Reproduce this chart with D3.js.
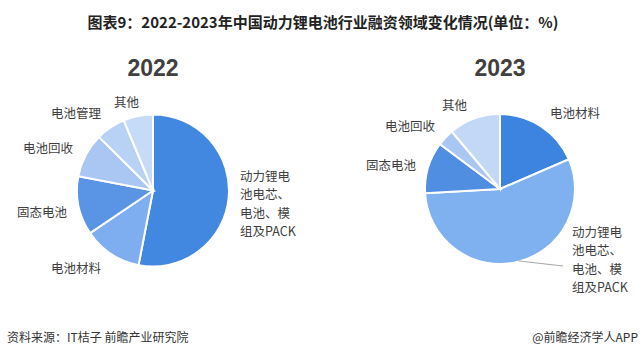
<!DOCTYPE html>
<html><head><meta charset="utf-8">
<script src="https://cdn.jsdelivr.net/npm/d3@7/dist/d3.min.js"></script>
<style>
html,body{margin:0;padding:0;background:#fff;}
svg{display:block;font-family:"Noto Sans CJK SC","Noto Sans",sans-serif;}
</style></head>
<body><svg id="c" width="644" height="359"></svg>
<script>
const title = "图表9：2022-2023年中国动力锂电池行业融资领域变化情况(单位：%)";
const source = "资料来源：IT桔子 前瞻产业研究院";
const credit = "@前瞻经济学人APP";

const years = ["2022", "2023"];
const cats2022 = ["动力锂电池电芯、电池、模组及PACK", "电池材料", "固态电池", "电池回收", "电池管理", "其他"];
const vals2022 = [53.1, 12.5, 12.5, 9.4, 6.3, 6.3];
const colors2022 = ["#4388e0", "#7eaef0", "#5a94e4", "#a9c7f2", "#b8d2f5", "#c6dbf7"];
const cats2023 = ["电池材料", "动力锂电池电芯、电池、模组及PACK", "固态电池", "电池回收", "其他"];
const vals2023 = [18.5, 55.6, 11.1, 3.7, 11.1];
const colors2023 = ["#3d84e0", "#7fb0f0", "#4f8ee0", "#a9c7f2", "#c2d8f6"];

const svg = d3.select("#c");

svg.append("text").attr("x", 323).attr("y", 28).attr("text-anchor", "middle")
  .attr("font-size", 15).attr("font-weight", "bold").attr("fill", "#222").text(title);

svg.append("text").attr("x", 7).attr("y", 342).attr("font-size", 12).attr("fill", "#333").text(source);
svg.append("text").attr("x", 638).attr("y", 342).attr("text-anchor", "end").attr("font-size", 12).attr("fill", "#333").text(credit);

const pie = d3.pie().sort(null).value(d => d);

function drawPie(cx, cy, r, year, vals, cats, colors, labels) {
  const g = svg.append("g").attr("transform", `translate(${cx},${cy})`);
  const arc = d3.arc().innerRadius(0).outerRadius(r);
  const arcs = pie(vals);
  g.selectAll("path").data(arcs).enter().append("path")
    .attr("d", arc).attr("fill", (d, i) => colors[i])
    .attr("stroke", "#fff").attr("stroke-width", 2);
  svg.append("text").attr("x", cx).attr("y", 76).attr("text-anchor", "middle")
    .attr("font-size", 23).attr("font-weight", "bold").attr("fill", "#404040")
    .attr("font-family", "Liberation Sans, Arial, sans-serif").text(year);
  labels.forEach(L => {
    const t = svg.append("text").attr("font-size", 12.5).attr("fill", "#404040")
      .attr("text-anchor", L.anchor || "start");
    L.lines.forEach((ln, j) => {
      t.append("tspan").attr("x", L.x).attr("y", L.y + j * 18.3).text(ln);
    });
    if (L.leader) {
      const a = arcs[L.idx];
      const mid = (a.startAngle + a.endAngle) / 2;
      const ang = L.leaderAngle != null ? L.leaderAngle : mid;
      const p = [cx + Math.sin(ang) * r * 0.99, cy - Math.cos(ang) * r * 0.99];
      svg.append("path").attr("d", `M${p[0]},${p[1]}L${L.leader[0]},${L.leader[1]}`)
        .attr("stroke", "#a6a6a6").attr("fill", "none").attr("stroke-width", 1);
    }
  });
}

const splitBig = ["动力锂电", "池电芯、", "电池、模", "组及PACK"];

drawPie(153, 190.5, 76, years[0], vals2022, cats2022, colors2022, [
  {lines: splitBig, x: 240, y: 181},
  {lines: ["电池材料"], x: 51, y: 273},
  {lines: ["固态电池"], x: 17, y: 217},
  {lines: ["电池回收"], x: 23, y: 153},
  {lines: ["电池管理"], x: 51, y: 118},
  {lines: ["其他"], x: 114, y: 107}
]);

drawPie(500, 189, 75, years[1], vals2023, cats2023, colors2023, [
  {lines: ["电池材料"], x: 550, y: 118},
  {lines: splitBig, x: 572, y: 237, leader: [563, 266], idx: 1, leaderAngle: Math.PI * 0.92},
  {lines: ["固态电池"], x: 366, y: 170},
  {lines: ["电池回收"], x: 385, y: 131},
  {lines: ["其他"], x: 442, y: 110}
]);
</script></body></html>
